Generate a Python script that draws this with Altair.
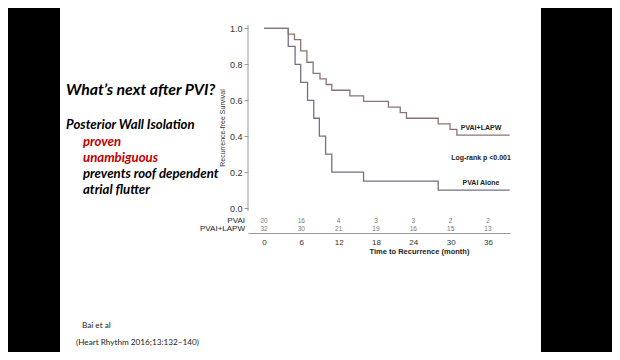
import altair as alt
import pandas as pd

# Kaplan-Meier step data
pvai_t = [0, 3.9, 5.0, 5.9, 7.0, 8.0, 8.9, 9.9, 10.9, 16.0, 28.0, 39.5]
pvai_s = [1.0, 0.9, 0.8, 0.7, 0.6, 0.5, 0.4, 0.3, 0.2, 0.15, 0.1, 0.1]
lapw_t = [0, 3.9, 4.9, 5.9, 6.9, 7.9, 9.0, 10.0, 10.9, 13.8, 16.0, 20.0, 21.9, 22.9, 28.0, 29.9, 31.0, 39.5]
lapw_s = [1.0, 0.969, 0.938, 0.875, 0.812, 0.75, 0.719, 0.688, 0.656, 0.625, 0.594, 0.562, 0.531, 0.5, 0.469, 0.438, 0.406, 0.406]

# Number at risk table
risk_months = [0, 6, 12, 18, 24, 30, 36]
risk_pvai = [20, 16, 4, 3, 3, 2, 2]
risk_lapw = [32, 30, 21, 19, 16, 15, 13]

y_ticks = [0.0, 0.2, 0.4, 0.6, 0.8, 1.0]
x_ticks = [0, 6, 12, 18, 24, 30, 36]

curves = pd.concat([
    pd.DataFrame({"t": pvai_t, "s": pvai_s, "grp": "PVAI Alone"}),
    pd.DataFrame({"t": lapw_t, "s": lapw_s, "grp": "PVAI+LAPW"}),
])
risk_df = pd.DataFrame({"m": risk_months, "pvai": risk_pvai, "lapw": risk_lapw})
blank = pd.DataFrame({"k": [0]})

xscale = alt.Scale(domain=[-2.57, 39.54], nice=False, zero=False)
yscale = alt.Scale(domain=[-0.139, 1.036], nice=False, zero=False)

bg = alt.Chart(blank).mark_rect(color="white").encode(
    x=alt.value(-188), x2=alt.value(293), y=alt.value(-14), y2=alt.value(330)
)

lines = alt.Chart(curves).mark_line(interpolate="step-after", strokeWidth=1.3).encode(
    x=alt.X("t:Q", scale=xscale, axis=alt.Axis(
        values=x_ticks, title="Time to Recurrence (month)", domain=True, domainColor="#999",
        ticks=False, labelPadding=5, labelFontSize=8, labelColor="#333", labelFont="Liberation Sans",
        grid=False, titleFontSize=7.5, titleFont="Liberation Sans", titleFontWeight="bold",
        titleColor="#222", titleX=171, titleY=18, titleAlign="center", titleBaseline="middle",
        zindex=1)),
    y=alt.Y("s:Q", scale=yscale, axis=alt.Axis(
        values=y_ticks, format=".1f", title="Recurrence-free Survival", domain=False,
        ticks=True, tickSize=4, tickColor="#999", labelPadding=2, labelFontSize=9,
        labelColor="#333", labelFont="Liberation Sans", grid=False,
        titleFontSize=7, titleFont="Liberation Sans", titleFontWeight="normal", titleColor="#333",
        titlePadding=4, zindex=1)),
    color=alt.Color("grp:N", scale=alt.Scale(domain=["PVAI Alone", "PVAI+LAPW"],
                                             range=["#737089", "#8c7373"]), legend=None),
)

yaxis_line = alt.Chart(blank).mark_rule(color="#999", strokeWidth=1).encode(
    x=alt.value(0), y=alt.value(3), y2=alt.value(189)
)

risk1 = alt.Chart(risk_df).mark_text(fontSize=6.5, color="#777", font="Liberation Sans").encode(
    x=alt.X("m:Q", scale=xscale), y=alt.value(199), text="pvai:Q"
)
risk2 = alt.Chart(risk_df).mark_text(fontSize=6.5, color="#777", font="Liberation Sans").encode(
    x=alt.X("m:Q", scale=xscale), y=alt.value(207), text="lapw:Q"
)

def txt(s, x, y, size, color="black", weight="normal", style="normal", font="Liberation Sans", align="left"):
    return alt.Chart(blank).mark_text(
        text=s, fontSize=size, color=color, fontWeight=weight, fontStyle=style,
        font=font, align=align, baseline="middle"
    ).encode(x=alt.value(x), y=alt.value(y))

row_lab1 = txt("PVAI", -3, 198.5, 8, color="#222", align="right")
row_lab2 = txt("PVAI+LAPW", -3, 207, 8, color="#222", align="right")

ann1 = txt("PVAI+LAPW", 233, 106, 7, color="#222", weight="bold", align="center")
ann2 = txt("Log-rank p <0.001", 233, 136, 7, color="#222", weight="bold", align="center")
ann3 = txt("PVAI Alone", 233, 161, 7, color="#222", weight="bold", align="center")

RED = "#c00000"
L = "Lato"
s1 = txt("What\u2019s next after PVI?", -182, 68, 15.8, weight="bold", style="italic", font=L)
s2 = txt("Posterior Wall Isolation", -182, 103, 13.2, weight="bold", style="italic", font=L)
s3 = txt("proven", -165, 120, 13.2, color=RED, weight="bold", style="italic", font=L)
s4 = txt("unambiguous", -165, 136, 13.2, color=RED, weight="bold", style="italic", font=L)
s5 = txt("prevents roof dependent", -165, 152, 13.2, weight="bold", style="italic", font=L)
s6 = txt("atrial flutter", -165, 168, 13.2, weight="bold", style="italic", font=L)

ref1 = txt("Bai et al", -166, 304, 8.2, color="#222", font=L)
ref2 = txt("(Heart Rhythm 2016;13:132\u2212140)", -172, 321, 8.2, color="#222", font=L)

chart = alt.layer(
    bg, yaxis_line, lines, risk1, risk2, row_lab1, row_lab2, ann1, ann2, ann3,
    s1, s2, s3, s4, s5, s6, ref1, ref2
).resolve_scale(x="shared", y="shared").properties(
    width=262, height=211,
    autosize=alt.AutoSizeParams(type="none"),
    padding={"left": 240, "top": 14, "right": 102, "bottom": 119},
    background="black",
).configure_view(stroke=None)

chart.save("out.html", embed_options={"renderer": "svg", "actions": False})
